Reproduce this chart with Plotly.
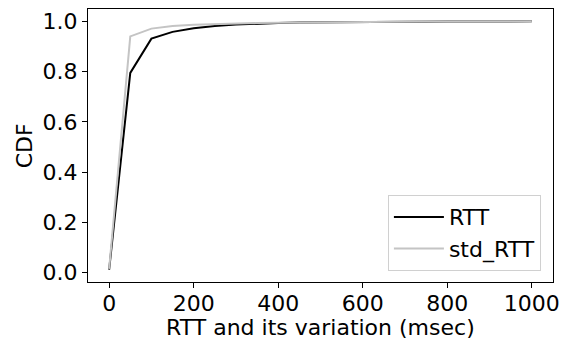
import plotly.graph_objects as go

x_vals = [0, 50, 100, 150, 200, 250, 300, 350, 400, 450, 500, 550, 600, 650, 700, 750, 800, 850, 900, 950, 1000]
rtt_cdf = [0.012, 0.795, 0.931, 0.958, 0.972, 0.981, 0.987, 0.991, 0.993, 0.995, 0.996, 0.997, 0.998, 0.998, 0.999, 0.999, 0.999, 0.999, 1.0, 1.0, 1.0]
std_cdf = [0.015, 0.940, 0.971, 0.981, 0.986, 0.989, 0.991, 0.993, 0.994, 0.995, 0.996, 0.997, 0.998, 0.998, 0.999, 0.999, 0.999, 0.999, 1.0, 1.0, 1.0]

x_ticks = [0, 200, 400, 600, 800, 1000]
y_ticks = [0.0, 0.2, 0.4, 0.6, 0.8, 1.0]
x_title = "RTT and its variation (msec)"
y_title = "CDF"

font = "DejaVu Sans"

fig = go.Figure()
fig.add_trace(go.Scatter(x=x_vals, y=rtt_cdf, mode="lines", name="RTT",
                         line=dict(color="black", width=2)))
fig.add_trace(go.Scatter(x=x_vals, y=std_cdf, mode="lines", name="std_RTT",
                         line=dict(color="#c4c4c4", width=2)))

axis_common = dict(showline=True, linecolor="black", linewidth=1, mirror=True,
                   ticks="outside", ticklen=5, tickcolor="black", tickwidth=1,
                   showgrid=False, zeroline=False, automargin=False,
                   tickfont=dict(family=font, size=22, color="black"))

fig.update_layout(
    width=562, height=340,
    margin=dict(l=88, r=9, t=9, b=58),
    paper_bgcolor="white", plot_bgcolor="white",
    font=dict(family=font, color="black"),
    xaxis=dict(range=[-50, 1050], tickvals=x_ticks, ticktext=[str(v) for v in x_ticks],
               ticklabelstandoff=-3, **axis_common),
    yaxis=dict(range=[-0.037, 1.049], tickvals=y_ticks, ticktext=[f"{v:.1f}" for v in y_ticks],
               **axis_common),
    legend=dict(x=0.974, y=0.040, xanchor="right", yanchor="bottom",
                bgcolor="white", bordercolor="#d0d0d0", borderwidth=1,
                font=dict(family=font, size=22, color="black"),
                itemwidth=50, tracegroupgap=0),
    showlegend=True,
    annotations=[
        dict(text=x_title, xref="paper", yref="paper", x=0.5, y=-0.168,
             xanchor="center", yanchor="middle", showarrow=False,
             font=dict(family=font, size=22, color="black")),
        dict(text=y_title, xref="paper", yref="paper", x=-0.136, y=0.5,
             xanchor="center", yanchor="middle", showarrow=False, textangle=-90,
             font=dict(family=font, size=22, color="black")),
    ],
)

fig.write_html("out.html")
